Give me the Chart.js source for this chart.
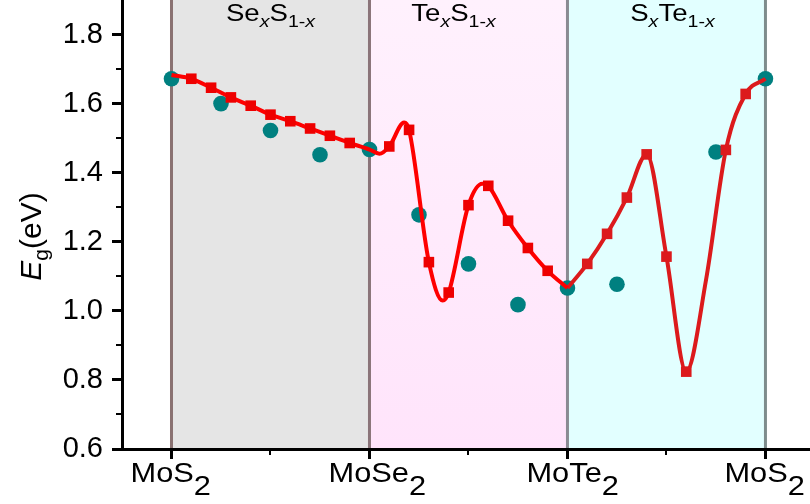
<!DOCTYPE html>
<html>
<head>
<meta charset="utf-8">
<script src="https://cdn.jsdelivr.net/npm/chart.js@4.4.1/dist/chart.umd.min.js"></script>
<style>
  html, body { margin: 0; padding: 0; background: #fff; }
  canvas { display: block; }
</style>
</head>
<body>
<canvas id="chart" width="810" height="504"></canvas>
<script>
// ---- end-member compounds on the composition axis ----
const endpointPos  = [0, 1, 2, 3];
const endpointMain = ['MoS', 'MoSe', 'MoTe', 'MoS'];
const endpointSub  = ['2', '2', '2', '2'];

// ---- alloy segments between the end members ----
const regionStart = [0, 1, 2];
const regionEnd   = [1, 2, 3];
const regionElemA = ['Se', 'Te', 'S'];
const regionElemB = ['S', 'S', 'Te'];

// ---- y axis ticks ----
const yTicks      = [0.6, 0.8, 1.0, 1.2, 1.4, 1.6, 1.8];
const yTickLabels = ['0.6', '0.8', '1.0', '1.2', '1.4', '1.6', '1.8'];
const yMinorTicks = [0.7, 0.9, 1.1, 1.3, 1.5, 1.7];
const xMinorTicks = [0.5, 1.5, 2.5];

// ---- band gap, circles ----
const circleX = [0, 0.25, 0.5, 0.75, 1, 1.25, 1.5, 1.75, 2, 2.25, 2.75, 3];
const circleY = [1.672, 1.600, 1.522, 1.452, 1.467, 1.278, 1.136, 1.018, 1.066, 1.077, 1.460, 1.672];

// ---- band gap, squares ----
const squareX = [0.1, 0.2, 0.3, 0.4, 0.5, 0.6, 0.7, 0.8, 0.9,
                 1.1, 1.2, 1.3, 1.4, 1.5, 1.6, 1.7, 1.8, 1.9,
                 2.1, 2.2, 2.3, 2.4, 2.5, 2.6, 2.8, 2.9];
const squareY = [1.672, 1.646, 1.618, 1.594, 1.568, 1.549, 1.528, 1.507, 1.486,
                 1.476, 1.524, 1.141, 1.053, 1.306, 1.362, 1.261, 1.182, 1.116,
                 1.136, 1.223, 1.328, 1.453, 1.157, 0.824, 1.466, 1.628];

// ---- smooth trend through the squares (MoS2 -> MoSe2 -> MoTe2) ----
const trendAX = [0, 0.1, 0.2, 0.3, 0.4, 0.5, 0.6, 0.7, 0.8, 0.9, 1.0, 1.05, 1.1, 1.175, 1.2,
                 1.3, 1.37, 1.4, 1.5, 1.57, 1.6, 1.7, 1.8, 1.9, 2.0];
const trendAY = [1.683, 1.672, 1.646, 1.618, 1.594, 1.568, 1.549, 1.528, 1.507, 1.486, 1.467, 1.455, 1.476, 1.545, 1.524,
                 1.141, 1.030, 1.053, 1.306, 1.368, 1.362, 1.261, 1.182, 1.116, 1.066];
// ---- smooth trend (MoTe2 -> MoS2) ----
const trendBX = [2.0, 2.1, 2.2, 2.3, 2.4, 2.5, 2.6, 2.7, 2.8, 2.9, 3.0];
const trendBY = [1.066, 1.136, 1.223, 1.328, 1.453, 1.157, 0.824, 1.090, 1.466, 1.628, 1.672];

const FONT = '"Liberation Sans", Arial, Helvetica, sans-serif';
const pts = (xs, ys) => xs.map((x, i) => ({ x: x, y: ys[i] }));

// draws a run of text pieces (mixed size / italic / baseline shift)
function partsWidth(ctx, parts) {
  let w = 0;
  for (const p of parts) {
    ctx.font = (p.italic ? 'italic ' : '') + p.size + 'px ' + FONT;
    w += ctx.measureText(p.t).width;
  }
  return w;
}
function drawParts(ctx, parts, x, y, sx, rot) {
  ctx.save();
  ctx.translate(x, y);
  if (rot) ctx.rotate(rot);
  ctx.scale(sx, 1);
  ctx.textAlign = 'left';
  ctx.textBaseline = 'alphabetic';
  ctx.fillStyle = '#000';
  let cx = 0;
  for (const p of parts) {
    ctx.font = (p.italic ? 'italic ' : '') + p.size + 'px ' + FONT;
    ctx.fillText(p.t, cx, p.dy || 0);
    cx += ctx.measureText(p.t).width;
  }
  ctx.restore();
}

const regionFills = ['#e5e5e5', null, '#e2ffff'];
const boundaryColors = ['#8a7272', '#8a7479', '#8a8a92', '#7e8c8c'];
const regionTitleShift = [0, -15, 6];

const backdrop = {
  id: 'backdrop',
  beforeDraw(chart) {
    const { ctx, chartArea: a, scales: { x } } = chart;
    ctx.save();
    regionStart.forEach((s, i) => {
      const x0 = x.getPixelForValue(s), x1 = x.getPixelForValue(regionEnd[i]);
      let fill = regionFills[i];
      if (!fill) {
        const g = ctx.createLinearGradient(0, a.top, 0, a.bottom);
        g.addColorStop(0, '#fff1fd');
        g.addColorStop(1, '#ffe4fb');
        fill = g;
      }
      ctx.fillStyle = fill;
      ctx.fillRect(x0, a.top, x1 - x0, a.bottom - a.top);
    });
    endpointPos.forEach((v, i) => {
      const px = x.getPixelForValue(v);
      ctx.strokeStyle = boundaryColors[i];
      ctx.lineWidth = 3;
      ctx.beginPath();
      ctx.moveTo(px, a.top);
      ctx.lineTo(px, a.bottom);
      ctx.stroke();
    });
    ctx.restore();
  },
  afterDraw(chart) {
    const { ctx, chartArea: a, scales: { x, y } } = chart;
    ctx.save();
    ctx.strokeStyle = '#000';
    ctx.lineWidth = 2;
    // minor ticks
    yMinorTicks.forEach(v => {
      const py = Math.round(y.getPixelForValue(v));
      ctx.beginPath();
      ctx.moveTo(a.left - 6, py);
      ctx.lineTo(a.left, py);
      ctx.stroke();
    });
    xMinorTicks.forEach(v => {
      const px = Math.round(x.getPixelForValue(v));
      ctx.beginPath();
      ctx.moveTo(px, a.bottom);
      ctx.lineTo(px, a.bottom + 6);
      ctx.stroke();
    });
    ctx.restore();

    // compound names under the axis
    endpointPos.forEach((v, i) => {
      const px = x.getPixelForValue(v);
      drawParts(ctx, [
        { t: endpointMain[i], size: 28 },
        { t: endpointSub[i], size: 28, dy: 13 }
      ], px - 41, a.bottom + 33, 1.1, 0);
    });

    // alloy names at the top of each band
    regionStart.forEach((s, i) => {
      const cx = x.getPixelForValue((s + regionEnd[i]) / 2) + regionTitleShift[i];
      const parts = [
        { t: regionElemA[i], size: 24 },
        { t: 'x', size: 17, italic: true, dy: 6 },
        { t: regionElemB[i], size: 24 },
        { t: '1-', size: 17, dy: 6 },
        { t: 'x', size: 17, italic: true, dy: 6 }
      ];
      const sx = 1.15;
      const w = partsWidth(ctx, parts) * sx;
      drawParts(ctx, parts, cx - w / 2, a.top + 21, sx, 0);
    });

    // y axis title  E_g (eV)
    const tparts = [
      { t: 'E', size: 30, italic: true },
      { t: 'g', size: 21, dy: 7 },
      { t: '(eV)', size: 30 }
    ];
    const tw = partsWidth(ctx, tparts);
    const cy = (a.top + a.bottom) / 2 + 12;
    drawParts(ctx, tparts, 41, cy + tw / 2, 1, -Math.PI / 2);
  }
};

const axisGrid = { drawOnChartArea: false, drawTicks: true, tickLength: 10, tickWidth: 3, tickColor: '#000' };
const axisBorder = { display: true, color: '#000', width: 3 };

new Chart(document.getElementById('chart'), {
  type: 'scatter',
  data: {
    datasets: [
      {
        label: 'circles',
        data: pts(circleX, circleY),
        pointStyle: 'circle',
        pointRadius: 7.8,
        pointBackgroundColor: '#008080',
        pointBorderWidth: 0,
        showLine: false,
        order: 3
      },
      {
        label: 'trend A',
        data: pts(trendAX, trendAY),
        showLine: true,
        borderColor: '#ff0000',
        borderWidth: 4,
        pointRadius: 0,
        cubicInterpolationMode: 'monotone',
        order: 2
      },
      {
        label: 'trend B',
        data: pts(trendBX, trendBY),
        showLine: true,
        borderColor: '#dc1a1c',
        borderWidth: 4,
        pointRadius: 0,
        cubicInterpolationMode: 'monotone',
        order: 2
      },
      {
        label: 'squares',
        data: pts(squareX, squareY),
        showLine: false,
        pointStyle: 'rect',
        pointRadius: 7.5,
        pointBorderWidth: 0,
        pointBackgroundColor: c => (c.raw && c.raw.x > 2 ? '#dc1a1c' : '#ee0000'),
        order: 1
      }
    ]
  },
  options: {
    responsive: false,
    devicePixelRatio: 1,
    animation: false,
    layout: { padding: 0, autoPadding: false },
    plugins: { legend: { display: false }, tooltip: { enabled: false } },
    scales: {
      x: {
        type: 'linear',
        min: -0.25,
        max: 3.225,
        afterBuildTicks: s => { s.ticks = endpointPos.map(v => ({ value: v })); },
        ticks: { display: false },
        grid: axisGrid,
        border: axisBorder,
        afterFit: s => { s.height = 55; s.paddingLeft = 0; s.paddingRight = 0; }
      },
      y: {
        type: 'linear',
        min: 0.6,
        max: 1.9,
        afterBuildTicks: s => { s.ticks = yTicks.map(v => ({ value: v })); },
        ticks: {
          callback: (v, i) => yTickLabels[i],
          font: { family: FONT, size: 29 },
          color: '#000',
          padding: 9
        },
        grid: axisGrid,
        border: axisBorder,
        afterFit: s => { s.width = 122; s.paddingTop = 0; s.paddingBottom = 0; }
      }
    }
  },
  plugins: [backdrop]
});
</script>
</body>
</html>
